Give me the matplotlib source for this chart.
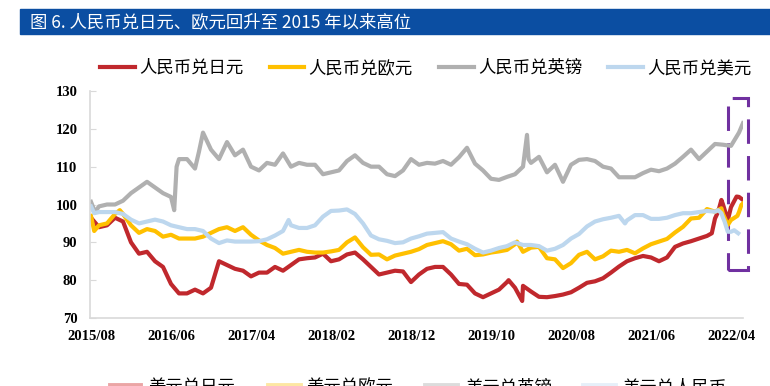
import numpy as np
import matplotlib.pyplot as plt
from matplotlib.lines import Line2D
from matplotlib.patches import Rectangle

plt.rcParams['font.family'] = ['Noto Sans CJK SC', 'DejaVu Sans']

# month index: 0 = 2015/08
tick_months = [0, 10, 20, 30, 40, 50, 60, 70, 80]
tick_labels = ['2015/08', '2016/06', '2017/04', '2018/02', '2018/12',
               '2019/10', '2020/08', '2021/06', '2022/04']

# monthly readings (index 0..n) plus a few extra points at spikes
jpy_monthly = [96.5, 94, 94.5, 96.5, 95.5, 90, 87, 87.5, 85, 83.5,
               79, 76.5, 76.5, 77.5, 76.5, 78, 85, 84, 83, 82.5,
               81, 82, 82, 83.5, 82.5, 84, 85.5, 85.8, 86, 87,
               85, 85.5, 86.8, 87.3, 85.5, 83.5, 81.5, 82, 82.5, 82.3,
               79.5, 81.5, 83, 83.5, 83.5, 81.5, 79, 78.8, 76.5, 75.5,
               76.5, 77.5, 79.5, 78, 78.5, 77, 75.6, 75.5, 75.8, 76.2,
               76.8, 78, 79.3, 79.7, 80.5, 82, 83.6, 85, 85.8, 86.4,
               86, 85, 86, 88.8, 89.7, 90.3, 91, 91.7, 96.3, 100,
               99.3, 102]
jpy_extra = [(52.2, 80), (53.9, 74.5), (77.6, 92.4), (78.4, 98.1),
             (78.8, 101.2), (79.6, 95.9), (80.7, 102.1), (81.5, 101.2)]

eur_monthly = [97, 94.5, 95, 97.5, 97.5, 94.5, 92.5, 93.5, 93, 91.5,
               92, 91, 91, 91, 91.5, 92.5, 93.5, 94, 93, 94,
               92, 90.5, 89.3, 88.5, 87, 87.5, 88, 87.5, 87.3, 87.3,
               87.6, 88, 90, 91.3, 88.7, 86.7, 86.8, 85.5, 86.5, 87,
               87.5, 88.2, 89.3, 89.8, 90.3, 89.5, 87.8, 88.3, 86.6, 86.8,
               87.3, 87.6, 88, 89.5, 87.5, 88.6, 88.8, 85.8, 85.5, 83.2,
               84.5, 86.7, 87.5, 85.5, 86.3, 87.8, 87.5, 88, 87.1, 88.4,
               89.5, 90.2, 90.9, 92.6, 94.1, 96.3, 96.5, 98.8, 98.1, 97.5,
               95.9, 98]
eur_extra = [(0.4, 93), (3.6, 98.5), (53.25, 90.2), (78.8, 99),
             (79.6, 94.6), (80.8, 97), (81.3, 99.9), (81.5, 100.3)]

gbp_monthly = [100.7, 99.5, 100, 100, 101, 103, 104.5, 106, 104.5, 103,
               102, 112, 112, 109.5, 119, 114.5, 112, 116.5, 113, 114.5,
               110, 109, 111, 110.5, 113.5, 110, 111, 110.5, 110.5, 108,
               108.5, 109, 111.5, 113, 111, 110, 110, 108, 107.5, 109,
               112, 110.5, 111, 110.8, 111.5, 110.5, 112.5, 115, 110.8, 109,
               106.8, 106.5, 107.3, 108, 110, 111, 112.6, 108.5, 110.5, 106,
               110.5, 111.8, 112, 111.5, 110, 109.5, 107.2, 107.2, 107.2, 108.3,
               109.2, 108.8, 109.5, 110.8, 112.6, 114.5, 112, 114, 116, 115.8,
               115.5, 119]
gbp_extra = [(0.5, 98), (10.4, 98.5), (10.7, 110), (13.5, 114),
             (54.5, 118.4), (54.7, 112), (81.5, 121.5)]

usd_monthly = [99.5, 98, 98, 98, 97.5, 96, 95, 95.5, 96, 95.5,
               94.5, 94, 93.5, 93.5, 93, 91, 89.8, 90.5, 90.2, 90.2,
               90.2, 90.3, 90.8, 91.8, 93, 94.5, 93.8, 93.8, 94.5, 96.8,
               98.3, 98.4, 98.7, 97.5, 95, 91.8, 90.8, 90.4, 89.8, 90,
               91, 91.6, 92.3, 92.5, 92.7, 91, 90.2, 89.5, 88.3, 87.3,
               87.8, 88.5, 89, 90, 89.3, 89.3, 89, 87.8, 88.3, 89.3,
               91, 92.2, 94.2, 95.5, 96.1, 96.5, 97, 95.8, 97.2, 97.2,
               96.2, 96.2, 96.5, 97.2, 97.7, 97.7, 98, 98.3, 98.1, 96.5,
               92.8]
usd_extra = [(0.4, 97.7), (24.7, 95.9), (66.75, 95), (78.4, 98.5),
             (78.8, 97.7), (79.2, 95.5), (79.6, 92.8), (80.4, 93.2), (80.9, 92.4)]

names = ['人民币兑日元', '人民币兑欧元', '人民币兑英镑', '人民币兑美元']
colors = ['#C0282D', '#FFC000', '#B0B0B0', '#BDD7EE']
bottom_names = ['美元兑日元', '美元兑欧元', '美元兑英镑', '美元兑人民币']
bottom_colors = ['#EBA5A5', '#FDE7A3', '#DCDCDC', '#E6EFF9']


def build(monthly, extra):
    m = np.concatenate([np.arange(len(monthly)), [e[0] for e in extra]])
    v = np.concatenate([monthly, [e[1] for e in extra]])
    order = np.argsort(m)
    return m[order], v[order]


W, H = 770, 386
fig = plt.figure(figsize=(W / 100, H / 100), dpi=100)

# title bar
fig.patches.append(Rectangle((20 / W, 1 - 34 / H), 1 - 20 / W, 25 / H,
                             transform=fig.transFigure, color='#0B4EA2'))
fig.text(30 / W, 1 - 22 / H, '图 6. 人民币兑日元、欧元回升至 2015 年以来高位',
         color='white', fontsize=12.5, va='center')

ax = fig.add_axes([90 / W, 1 - 318 / H, 653 / W, 227 / H])

series = [build(jpy_monthly, jpy_extra), build(eur_monthly, eur_extra),
          build(gbp_monthly, gbp_extra), build(usd_monthly, usd_extra)]
lines = []
for (m, v), name, c in zip(series, names, colors):
    ln, = ax.plot(m, v, color=c, lw=3, label=name, solid_joinstyle='round')
    lines.append(ln)

ax.set_xlim(-0.125, 81.5)
ax.set_ylim(70, 130)
ax.set_yticks(range(70, 131, 10))
ax.set_xticks(tick_months)
ax.set_xticklabels(tick_labels)

for s in ['top', 'right']:
    ax.spines[s].set_visible(False)
for s in ['left', 'bottom']:
    ax.spines[s].set_color('#D9D9D9')
    ax.spines[s].set_linewidth(1.2)

ax.tick_params(axis='y', direction='in', length=4, color='#D9D9D9', pad=9)
ax.tick_params(axis='x', length=0, pad=9)
for lab in ax.get_xticklabels() + ax.get_yticklabels():
    lab.set_fontfamily('Liberation Serif')
    lab.set_fontweight('bold')
    lab.set_fontsize(10.5)

# highlight box around the latest months
ax.add_patch(Rectangle((79.6, 82.7), 2.5, 45.4, fill=False,
                       edgecolor='#7030A0', lw=2.2, ls=(0, (8, 4)),
                       clip_on=False))

fig.legend(handles=lines, loc='center', bbox_to_anchor=(426 / W, 1 - 68 / H),
           ncol=4, frameon=False, fontsize=12.5, handlelength=2.0,
           handletextpad=0.25, columnspacing=1.5)

# partially visible legend of the next chart at the bottom edge
handle_x = [(110, 140), (268, 300), (425, 457), (583, 615)]
text_x = [148, 306, 465, 622]
for (x0, x1), tx, name, c in zip(handle_x, text_x, bottom_names, bottom_colors):
    fig.add_artist(Line2D([x0 / W, x1 / W], [1 - 385 / H] * 2, color=c, lw=3.5,
                          transform=fig.transFigure))
    fig.text(tx / W, 1 - 387 / H, name, fontsize=12.5, va='center')

fig.savefig('out.png', dpi=100)
